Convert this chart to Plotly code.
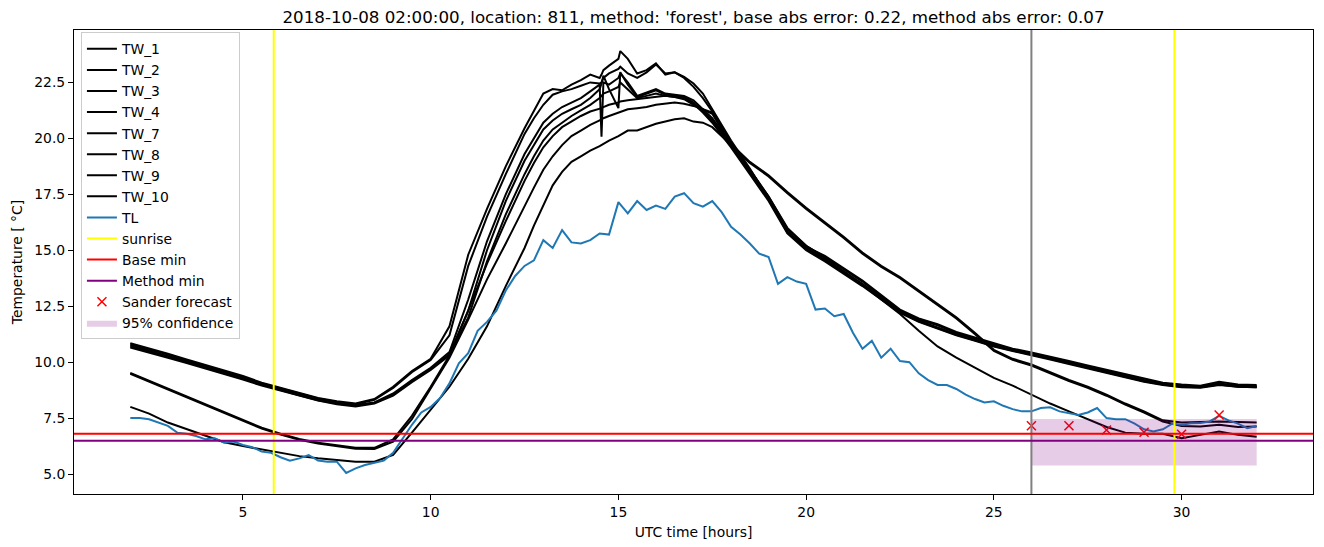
import plotly.graph_objects as go

title_text = "2018-10-08 02:00:00, location: 811, method: 'forest', base abs error: 0.22, method abs error: 0.07"

tw_hours = [2.0, 2.5, 3.0, 3.5, 4.0, 4.5, 5.0, 5.5, 6.0, 6.5,
            7.0, 7.5, 8.0, 8.5, 9.0, 9.5, 10.0, 10.5, 11.0, 11.5,
            12.0, 12.5, 12.75, 13.0, 13.25, 13.5, 13.75, 14.0, 14.25, 14.5,
            14.55, 14.6, 14.75, 15.0, 15.05, 15.25, 15.5, 15.75, 16.0, 16.25,
            16.5, 16.75, 17.0, 17.25, 17.5, 18.0, 18.5, 19.0, 19.5, 20.0,
            20.5, 21.0, 21.5, 22.0, 22.5, 23.0, 23.5, 24.0, 24.5, 25.0,
            25.5, 26.0, 26.5, 27.0, 27.5, 28.0, 28.5, 29.0, 29.5, 30.0,
            30.5, 31.0, 31.5, 32.0]

tw_1 = [10.85, 10.62, 10.38, 10.12, 9.88, 9.62, 9.38, 9.08, 8.85, 8.65,
        8.40, 8.25, 8.15, 8.35, 8.90, 9.60, 10.15, 11.60, 14.80, 16.85,
        18.75, 20.45, 21.20, 22.00, 22.20, 22.15, 22.40, 22.60, 22.85, 22.70,
        22.85, 23.05, 23.25, 23.55, 23.90, 23.55, 22.90, 23.05, 23.35, 22.85,
        22.95, 22.75, 22.45, 22.00, 21.30, 19.90, 18.65, 17.30, 15.80, 15.15,
        14.75, 14.20, 13.65, 13.00, 12.35, 11.95, 11.70, 11.35, 11.10, 10.85,
        10.60, 10.43, 10.25, 10.05, 9.85, 9.65, 9.45, 9.25, 9.08, 9.00,
        8.95, 9.12, 9.00, 8.98]
tw_2 = [10.80, 10.58, 10.34, 10.08, 9.84, 9.58, 9.34, 9.05, 8.82, 8.62,
        8.38, 8.22, 8.12, 8.32, 8.85, 9.55, 10.10, 11.20, 14.30, 16.50,
        18.40, 20.20, 20.90, 21.50, 21.95, 22.10, 22.20, 22.35, 22.50, 22.45,
        22.50, 22.70, 22.90, 23.10, 23.20, 22.90, 22.70, 22.95, 23.30, 22.90,
        22.95, 22.70, 22.30, 21.80, 21.20, 19.80, 18.60, 17.40, 15.95, 15.20,
        14.70, 14.15, 13.60, 12.95, 12.30, 11.90, 11.65, 11.30, 11.05, 10.80,
        10.55, 10.40, 10.20, 10.00, 9.80, 9.60, 9.40, 9.20, 9.05, 8.95,
        8.92, 9.05, 8.95, 8.92]
tw_3 = [10.75, 10.52, 10.28, 10.03, 9.78, 9.53, 9.28, 9.00, 8.78, 8.55,
        8.32, 8.18, 8.08, 8.20, 8.60, 9.20, 9.75, 10.45, 12.80, 15.40,
        17.50, 19.30, 20.00, 20.70, 21.10, 21.40, 21.60, 21.80, 22.10, 22.40,
        20.07, 22.50, 22.40, 22.70, 22.90, 22.50, 21.90, 22.05, 22.20, 22.00,
        21.95, 21.90, 21.70, 21.30, 20.90, 19.75, 18.55, 17.35, 15.85, 15.10,
        14.60, 14.05, 13.50, 12.90, 12.30, 11.85, 11.55, 11.25, 11.00, 10.75,
        10.55, 10.38, 10.18, 9.98, 9.78, 9.58, 9.38, 9.18, 9.02, 8.92,
        8.90, 9.02, 8.92, 8.90]
tw_4 = [10.70, 10.48, 10.25, 10.00, 9.75, 9.50, 9.25, 8.97, 8.75, 8.52,
        8.30, 8.15, 8.05, 8.18, 8.55, 9.15, 9.70, 10.35, 12.30, 15.00,
        17.20, 19.00, 19.70, 20.40, 20.80, 21.10, 21.30, 21.50, 21.80, 22.20,
        22.45, 22.80, 22.20, 21.35, 22.95, 22.40, 21.85, 22.00, 22.15, 21.95,
        21.90, 21.85, 21.60, 21.20, 20.80, 19.70, 18.50, 17.30, 15.80, 15.05,
        14.55, 14.00, 13.45, 12.85, 12.25, 11.82, 11.52, 11.22, 10.98, 10.72,
        10.52, 10.35, 10.15, 9.95, 9.75, 9.55, 9.35, 9.15, 9.00, 8.90,
        8.88, 9.00, 8.90, 8.88]
tw_7 = [10.65, 10.44, 10.20, 9.96, 9.72, 9.47, 9.22, 8.95, 8.72, 8.50,
        8.28, 8.12, 8.02, 8.15, 8.50, 9.10, 9.65, 10.30, 12.00, 14.50,
        16.60, 18.40, 19.20, 19.90, 20.40, 20.70, 21.00, 21.25, 21.50, 21.80,
        21.90, 22.00, 22.10, 22.30, 22.50, 22.20, 21.80, 21.90, 22.00, 21.90,
        21.85, 21.80, 21.55, 21.15, 20.70, 19.60, 18.40, 17.20, 15.75, 15.00,
        14.50, 13.95, 13.40, 12.80, 12.20, 11.80, 11.50, 11.20, 10.95, 10.70,
        10.50, 10.32, 10.12, 9.92, 9.72, 9.52, 9.32, 9.12, 8.98, 8.88,
        8.86, 8.98, 8.90, 8.88]
tw_8 = [9.52, 9.17, 8.82, 8.47, 8.12, 7.77, 7.42, 7.07, 6.80, 6.57,
        6.40, 6.27, 6.17, 6.17, 6.55, 7.60, 8.90, 10.30, 12.30, 14.40,
        16.30, 18.10, 18.90, 19.60, 20.10, 20.50, 20.75, 21.00, 21.20, 21.30,
        21.35, 21.40, 21.50, 21.60, 21.65, 21.70, 21.75, 21.80, 21.85, 21.90,
        21.85, 21.75, 21.50, 21.30, 21.10, 19.75, 18.95, 18.35, 17.60, 16.90,
        16.25, 15.60, 14.90, 14.30, 13.80, 13.20, 12.60, 12.00, 11.30, 10.55,
        10.15, 9.90, 9.55, 9.20, 8.90, 8.55, 8.15, 7.80, 7.40, 7.30,
        7.32, 7.35, 7.32, 7.30]
tw_9 = [9.48, 9.13, 8.78, 8.43, 8.08, 7.73, 7.38, 7.03, 6.76, 6.53,
        6.36, 6.23, 6.13, 6.12, 6.45, 7.45, 8.80, 10.20, 11.90, 13.70,
        15.30, 17.00, 17.80, 18.60, 19.20, 19.70, 20.10, 20.35, 20.60, 20.80,
        20.85, 20.90, 21.00, 21.15, 21.20, 21.30, 21.35, 21.40, 21.50, 21.55,
        21.60, 21.55, 21.45, 21.30, 21.15, 19.65, 18.90, 18.30, 17.55, 16.85,
        16.20, 15.55, 14.85, 14.25, 13.75, 13.15, 12.55, 11.95, 11.25, 10.50,
        10.10, 9.85, 9.50, 9.15, 8.85, 8.50, 8.10, 7.75, 7.35, 7.15,
        7.12, 7.20, 7.10, 7.12]
tw_10 = [8.00, 7.70, 7.30, 7.00, 6.70, 6.42, 6.25, 6.10, 5.95, 5.80,
         5.70, 5.62, 5.55, 5.55, 5.85, 6.85, 7.85, 8.90, 10.15, 11.60,
         13.40, 15.10, 16.10, 17.00, 17.90, 18.50, 18.95, 19.20, 19.45, 19.65,
         19.70, 19.75, 19.90, 20.10, 20.15, 20.35, 20.35, 20.50, 20.65, 20.75,
         20.85, 20.90, 20.75, 20.70, 20.50, 19.70, 18.60, 17.40, 16.00, 15.20,
         14.65, 14.05, 13.45, 12.80, 12.15, 11.40, 10.70, 10.20, 9.75, 9.30,
         8.95, 8.55, 8.15, 7.80, 7.45, 7.10, 6.85, 6.80, 6.80, 6.60,
         6.75, 6.90, 6.75, 6.67]

tw_names = ["TW_1", "TW_2", "TW_3", "TW_4", "TW_7", "TW_8", "TW_9", "TW_10"]
tw_series = [tw_1, tw_2, tw_3, tw_4, tw_7, tw_8, tw_9, tw_10]

tl_hours = [2.0 + 0.25 * i for i in range(121)]
tl_values = [7.50, 7.50, 7.45, 7.30, 7.15, 6.85, 6.80, 6.70, 6.55, 6.60,
             6.40, 6.45, 6.30, 6.20, 6.00, 5.95, 5.75, 5.60, 5.70, 5.85,
             5.60, 5.55, 5.55, 5.05, 5.25, 5.40, 5.50, 5.60, 5.95, 6.60,
             7.20, 7.75, 8.00, 8.40, 9.05, 9.95, 10.40, 11.40, 11.80, 12.30,
             13.20, 13.85, 14.30, 14.55, 15.45, 15.10, 15.90, 15.35, 15.30, 15.45,
             15.75, 15.70, 17.15, 16.65, 17.20, 16.80, 17.00, 16.85, 17.40, 17.55,
             17.10, 16.95, 17.20, 16.70, 16.05, 15.70, 15.30, 14.85, 14.70, 13.50,
             13.80, 13.60, 13.50, 12.35, 12.40, 12.05, 12.15, 11.30, 10.60, 10.95,
             10.20, 10.60, 10.05, 10.00, 9.50, 9.20, 8.98, 8.98, 8.80, 8.55,
             8.35, 8.20, 8.25, 8.05, 7.90, 7.80, 7.80, 7.95, 7.98, 7.80,
             7.72, 7.64, 7.75, 7.95, 7.50, 7.45, 7.45, 7.25, 7.00, 6.90,
             7.00, 7.25, 7.20, 7.27, 7.28, 7.35, 7.60, 7.40, 7.25, 7.05,
             7.15]

sunrise_hours = [5.82, 29.81]
forecast_start = 26.0
base_min = 6.80
method_min = 6.49
sander_hours = [26, 27, 28, 29, 30, 31]
sander_values = [7.16, 7.16, 6.97, 6.87, 6.78, 7.64]
conf_hours = [26.0, 32.0]
conf_low = 5.38
conf_high = 7.46

x_ticks = [5, 10, 15, 20, 25, 30]
y_ticks = [5.0, 7.5, 10.0, 12.5, 15.0, 17.5, 20.0, 22.5]

FONT = "DejaVu Sans"

fig = go.Figure()
for name, vals in zip(tw_names, tw_series):
    fig.add_trace(go.Scatter(x=tw_hours, y=vals, mode="lines", name=name,
                             line=dict(color="black", width=2)))
fig.add_trace(go.Scatter(x=tl_hours, y=tl_values, mode="lines", name="TL",
                         line=dict(color="#1f77b4", width=2)))
for name, col in [("sunrise", "yellow"), ("Base min", "red"), ("Method min", "purple")]:
    fig.add_trace(go.Scatter(x=[None], y=[None], mode="lines", name=name,
                             line=dict(color=col, width=2)))
fig.add_trace(go.Scatter(x=sander_hours, y=sander_values, mode="markers", name="Sander forecast",
                         marker=dict(symbol="x-thin", size=9, color="red",
                                     line=dict(color="red", width=1.5))))
fig.add_trace(go.Scatter(x=[conf_hours[0], conf_hours[1], conf_hours[1], conf_hours[0], conf_hours[0]],
                         y=[conf_low, conf_low, conf_high, conf_high, conf_low],
                         mode="lines", fill="toself", fillcolor="rgba(128,0,128,0.2)",
                         line=dict(width=0, color="rgba(128,0,128,0.2)"), name="95% confidence"))

for sr in sunrise_hours:
    fig.add_vline(x=sr, line=dict(color="yellow", width=2))
fig.add_vline(x=forecast_start, line=dict(color="gray", width=2))
fig.add_hline(y=base_min, line=dict(color="red", width=2))
fig.add_hline(y=method_min, line=dict(color="purple", width=2))

all_x = tw_hours + tl_hours
all_y = [v for s in tw_series for v in s] + tl_values + sander_values + [conf_low, conf_high]
xmin, xmax = min(all_x), max(all_x)
ymin, ymax = min(all_y), max(all_y)
xpad = 0.05 * (xmax - xmin)
ypad = 0.05 * (ymax - ymin)

axis_common = dict(showline=True, mirror=True, linecolor="black", linewidth=1,
                   ticks="outside", ticklen=5, tickwidth=1, tickcolor="black",
                   showgrid=False, zeroline=False, automargin=False,
                   tickfont=dict(family=FONT, size=13.9, color="black"))

# the page body adds an 8 px offset, so the figure is 8 px smaller on each axis
fig.update_layout(
    width=1316, height=539, autosize=False,
    margin=dict(l=66, r=11, t=22, b=53),
    paper_bgcolor="white", plot_bgcolor="white",
    font=dict(family=FONT, size=13.9, color="black"),
    title=dict(text=title_text, x=0.5, xref="paper", xanchor="center",
               y=1 - 9 / 539, yref="container", yanchor="middle",
               font=dict(family=FONT, size=16.7, color="black"), automargin=False),
    xaxis=dict(range=[xmin - xpad, xmax + xpad], tickvals=x_ticks,
               title=dict(text="UTC time [hours]", standoff=8,
                          font=dict(family=FONT, size=13.9, color="black")),
               **axis_common),
    yaxis=dict(range=[ymin - ypad, ymax + ypad], tickvals=y_ticks, tickformat=".1f",
               title=dict(text="Temperature [ °C]", standoff=8,
                          font=dict(family=FONT, size=13.9, color="black")),
               **axis_common),
    legend=dict(x=0.0056, y=0.995, xanchor="left", yanchor="top",
                bgcolor="rgba(255,255,255,0.8)", bordercolor="#cccccc", borderwidth=1,
                font=dict(family=FONT, size=13.9, color="black"), traceorder="normal"),
    showlegend=True,
)

fig.write_html("out.html")
